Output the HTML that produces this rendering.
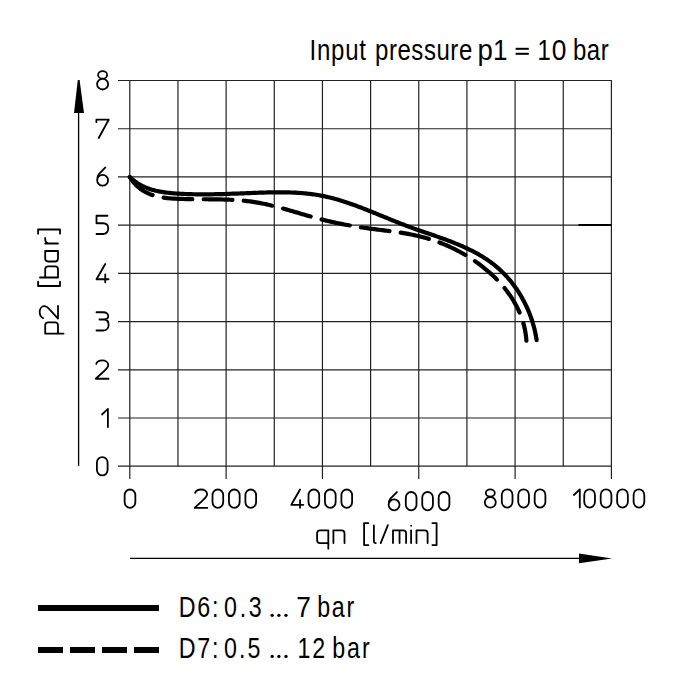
<!DOCTYPE html>
<html><head><meta charset="utf-8"><style>
html,body{margin:0;padding:0;background:#fff;}
svg{display:block;}
text{font-family:"Liberation Sans",sans-serif;fill:#000;}
</style></head><body>
<svg width="700" height="700" viewBox="0 0 700 700">
<rect width="700" height="700" fill="#fff"/>
<g stroke="#222" stroke-width="1.2" fill="none">
<line x1="129.80" y1="80.5" x2="129.80" y2="479" />
<line x1="177.96" y1="80.5" x2="177.96" y2="466.2" />
<line x1="226.12" y1="80.5" x2="226.12" y2="479" />
<line x1="274.28" y1="80.5" x2="274.28" y2="466.2" />
<line x1="322.44" y1="80.5" x2="322.44" y2="479" />
<line x1="370.60" y1="80.5" x2="370.60" y2="466.2" />
<line x1="418.76" y1="80.5" x2="418.76" y2="479" />
<line x1="466.92" y1="80.5" x2="466.92" y2="466.2" />
<line x1="515.08" y1="80.5" x2="515.08" y2="479" />
<line x1="563.24" y1="80.5" x2="563.24" y2="466.2" />
<line x1="611.40" y1="80.5" x2="611.40" y2="479" />
<line x1="118" y1="466.20" x2="612" y2="466.20" />
<line x1="118" y1="417.99" x2="612" y2="417.99" />
<line x1="118" y1="369.78" x2="612" y2="369.78" />
<line x1="118" y1="321.57" x2="612" y2="321.57" />
<line x1="118" y1="273.36" x2="612" y2="273.36" />
<line x1="118" y1="225.15" x2="612" y2="225.15" />
<line x1="118" y1="176.94" x2="612" y2="176.94" />
<line x1="118" y1="128.73" x2="612" y2="128.73" />
<line x1="118" y1="80.52" x2="612" y2="80.52" />
</g>
<g fill="none" stroke="#000" stroke-width="4.2" stroke-linecap="round" stroke-linejoin="round">
<path d="M129.70 176.90 L130.90 178.05 132.13 179.14 133.37 180.18 134.64 181.17 135.93 182.11 137.24 182.99 138.57 183.83 139.91 184.62 141.27 185.37 142.65 186.07 144.05 186.73 145.46 187.35 146.89 187.93 148.33 188.47 149.78 188.98 151.24 189.45 152.72 189.89 154.21 190.29 155.71 190.67 157.22 191.02 158.74 191.34 160.26 191.63 161.80 191.90 163.34 192.15 164.89 192.37 166.44 192.58 168.00 192.76 169.57 192.93 171.14 193.09 172.71 193.23 174.28 193.35 175.85 193.47 177.43 193.58 179.01 193.67 180.58 193.77 182.16 193.85 183.73 193.92 185.31 193.99 186.89 194.06 188.46 194.11 190.04 194.16 191.62 194.20 193.19 194.24 194.77 194.27 196.35 194.30 197.92 194.32 199.50 194.33 201.08 194.34 202.66 194.35 204.23 194.35 205.81 194.34 207.39 194.33 208.97 194.32 210.54 194.30 212.12 194.28 213.70 194.25 215.28 194.22 216.86 194.19 218.44 194.15 220.02 194.11 221.59 194.07 223.17 194.03 224.75 193.98 226.33 193.93 227.91 193.88 229.49 193.83 231.07 193.77 232.65 193.72 234.23 193.66 235.82 193.60 237.40 193.54 238.98 193.48 240.56 193.42 242.14 193.36 243.72 193.29 245.31 193.23 246.89 193.17 248.47 193.11 250.05 193.04 251.64 192.98 253.22 192.92 254.81 192.86 256.39 192.80 257.97 192.75 259.56 192.69 261.14 192.64 262.73 192.59 264.31 192.54 265.90 192.50 267.48 192.46 269.06 192.42 270.65 192.39 272.23 192.36 273.81 192.33 275.40 192.32 276.98 192.30 278.56 192.30 280.14 192.30 281.72 192.30 283.30 192.31 284.88 192.33 286.46 192.36 288.03 192.40 289.61 192.44 291.18 192.49 292.75 192.55 294.33 192.62 295.90 192.70 297.46 192.79 299.03 192.89 300.60 193.00 302.16 193.12 303.72 193.26 305.29 193.40 306.84 193.56 308.40 193.73 309.96 193.91 311.51 194.10 313.06 194.31 314.61 194.53 316.16 194.77 317.70 195.02 319.25 195.28 320.79 195.56 322.32 195.86 323.86 196.17 325.39 196.49 326.92 196.83 328.45 197.19 329.98 197.56 331.50 197.94 333.02 198.33 334.54 198.74 336.06 199.16 337.57 199.60 339.08 200.04 340.59 200.50 342.10 200.96 343.60 201.44 345.11 201.92 346.61 202.42 348.11 202.92 349.60 203.44 351.10 203.96 352.59 204.49 354.08 205.02 355.57 205.56 357.05 206.11 358.54 206.67 360.02 207.23 361.50 207.80 362.97 208.37 364.45 208.94 365.92 209.52 367.40 210.10 368.87 210.69 370.33 211.28 371.80 211.87 373.27 212.46 374.73 213.05 376.19 213.65 377.65 214.24 379.11 214.84 380.57 215.44 382.03 216.03 383.48 216.63 384.94 217.23 386.40 217.82 387.85 218.42 389.31 219.01 390.76 219.61 392.22 220.20 393.68 220.78 395.13 221.37 396.59 221.95 398.05 222.53 399.51 223.11 400.97 223.68 402.44 224.25 403.90 224.82 405.37 225.38 406.83 225.94 408.30 226.49 409.78 227.03 411.25 227.57 412.73 228.11 414.21 228.64 415.69 229.16 417.17 229.69 418.65 230.21 420.14 230.72 421.63 231.24 423.11 231.75 424.60 232.26 426.10 232.77 427.59 233.28 429.08 233.79 430.57 234.30 432.07 234.82 433.56 235.33 435.05 235.85 436.55 236.37 438.04 236.89 439.54 237.42 441.03 237.95 442.53 238.48 444.02 239.02 445.51 239.57 447.00 240.12 448.49 240.68 449.97 241.24 451.46 241.81 452.94 242.39 454.41 242.97 455.88 243.57 457.35 244.17 458.82 244.78 460.28 245.40 461.73 246.03 463.18 246.67 464.62 247.31 466.06 247.97 467.49 248.64 468.91 249.32 470.33 250.02 471.74 250.72 473.14 251.44 474.53 252.17 475.92 252.91 477.29 253.66 478.66 254.43 480.01 255.22 481.36 256.01 482.70 256.83 484.02 257.66 485.34 258.50 486.64 259.36 487.93 260.23 489.21 261.13 490.48 262.04 491.73 262.96 492.98 263.91 494.20 264.87 495.42 265.85 496.62 266.85 497.80 267.87 498.98 268.91 500.13 269.97 501.28 271.04 502.40 272.13 503.52 273.24 504.61 274.37 505.69 275.51 506.76 276.67 507.81 277.84 508.85 279.03 509.87 280.23 510.87 281.45 511.86 282.69 512.83 283.94 513.78 285.20 514.72 286.47 515.64 287.76 516.55 289.06 517.44 290.38 518.31 291.71 519.16 293.04 520.00 294.39 520.82 295.75 521.62 297.13 522.40 298.51 523.17 299.90 523.92 301.30 524.65 302.71 525.36 304.13 526.05 305.56 526.72 307.00 527.38 308.45 528.02 309.90 528.64 311.36 529.23 312.83 529.81 314.31 530.37 315.79 530.92 317.28 531.44 318.77 531.94 320.27 532.42 321.77 532.88 323.28 533.32 324.80 533.74 326.31 534.15 327.83 534.53 329.36 534.89 330.89 535.22 332.42 535.54 333.95 535.84 335.49 536.11 337.02 536.37 338.56 536.60 340.10"/>
<path d="M129.70 176.90 L130.59 178.33 131.52 179.71 132.49 181.03 133.50 182.29 134.54 183.50 135.62 184.65 136.73 185.74 137.87 186.78 139.04 187.77 140.24 188.71 141.46 189.59 142.72 190.43 144.00 191.21 145.30 191.95 146.63 192.64 147.98 193.29 149.35 193.89 150.73 194.45 152.14 194.96 153.56 195.44 155.00 195.87 156.46 196.26 157.92 196.61 159.40 196.93 160.89 197.22 162.40 197.47 163.91 197.70 165.43 197.90 166.95 198.07 168.49 198.23 170.03 198.36 171.57 198.48 173.12 198.58 174.67 198.67 176.23 198.74 177.78 198.81 179.33 198.87 180.89 198.92 182.44 198.97 183.99 199.01 185.55 199.05 187.10 199.08 188.65 199.11 190.20 199.13 191.75 199.16 193.30 199.17 194.85 199.19 196.40 199.20 197.95 199.21 199.50 199.22 201.05 199.23 202.59 199.24 204.14 199.25 205.68 199.26 207.23 199.27 208.77 199.28 210.32 199.29 211.86 199.31 213.40 199.32 214.94 199.34 216.48 199.36 218.02 199.39 219.56 199.42 221.09 199.45 222.63 199.49 224.16 199.53 225.70 199.58 227.23 199.64 228.76 199.70 230.29 199.77 231.82 199.84 233.35 199.92 234.88 200.02 236.40 200.11 237.93 200.22 239.45 200.34 240.97 200.46 242.49 200.60 244.01 200.75 245.53 200.90 247.05 201.07 248.56 201.25 250.08 201.45 251.59 201.65 253.10 201.87 254.61 202.10 256.12 202.34 257.62 202.60 259.13 202.87 260.63 203.15 262.13 203.44 263.63 203.75 265.13 204.07 266.63 204.39 268.13 204.73 269.62 205.08 271.12 205.43 272.61 205.80 274.11 206.17 275.60 206.55 277.09 206.93 278.58 207.33 280.07 207.73 281.56 208.13 283.05 208.54 284.53 208.96 286.02 209.38 287.51 209.80 288.99 210.23 290.48 210.66 291.97 211.09 293.45 211.52 294.94 211.96 296.42 212.39 297.91 212.83 299.39 213.27 300.88 213.70 302.36 214.14 303.85 214.57 305.33 215.01 306.82 215.44 308.30 215.86 309.79 216.29 311.27 216.71 312.76 217.12 314.25 217.53 315.74 217.94 317.22 218.34 318.71 218.73 320.20 219.12 321.69 219.50 323.18 219.87 324.67 220.24 326.17 220.60 327.66 220.95 329.15 221.30 330.65 221.64 332.15 221.98 333.64 222.31 335.14 222.63 336.64 222.95 338.14 223.26 339.64 223.56 341.14 223.86 342.64 224.16 344.15 224.44 345.65 224.73 347.16 225.01 348.66 225.28 350.17 225.54 351.68 225.81 353.19 226.06 354.70 226.32 356.22 226.56 357.73 226.81 359.25 227.05 360.76 227.28 362.28 227.51 363.80 227.74 365.32 227.96 366.85 228.17 368.37 228.39 369.89 228.59 371.42 228.80 372.95 229.00 374.48 229.20 376.01 229.40 377.54 229.59 379.07 229.78 380.61 229.98 382.14 230.17 383.67 230.36 385.21 230.55 386.74 230.75 388.27 230.94 389.81 231.14 391.34 231.35 392.87 231.55 394.40 231.76 395.93 231.97 397.46 232.19 398.99 232.42 400.51 232.65 402.04 232.89 403.56 233.13 405.08 233.39 406.60 233.65 408.11 233.92 409.63 234.20 411.14 234.49 412.65 234.79 414.15 235.10 415.65 235.43 417.15 235.76 418.65 236.11 420.14 236.47 421.63 236.85 423.11 237.24 424.59 237.64 426.07 238.06 427.54 238.48 429.01 238.93 430.47 239.38 431.93 239.85 433.39 240.33 434.84 240.83 436.28 241.34 437.73 241.86 439.16 242.39 440.59 242.94 442.02 243.50 443.44 244.08 444.86 244.66 446.27 245.26 447.68 245.88 449.08 246.50 450.47 247.14 451.86 247.80 453.25 248.46 454.63 249.14 456.00 249.83 457.37 250.54 458.73 251.25 460.08 251.99 461.43 252.73 462.77 253.48 464.11 254.25 465.44 255.04 466.76 255.83 468.08 256.64 469.39 257.46 470.69 258.29 471.99 259.14 473.28 259.99 474.56 260.87 475.83 261.75 477.10 262.65 478.36 263.56 479.61 264.48 480.85 265.41 482.09 266.36 483.31 267.32 484.53 268.29 485.73 269.27 486.92 270.27 488.11 271.27 489.28 272.29 490.44 273.33 491.59 274.37 492.73 275.43 493.85 276.49 494.96 277.57 496.06 278.66 497.14 279.77 498.22 280.88 499.27 282.01 500.32 283.15 501.34 284.30 502.36 285.46 503.35 286.63 504.33 287.81 505.30 289.01 506.25 290.21 507.18 291.43 508.09 292.66 508.99 293.90 509.86 295.15 510.72 296.41 511.57 297.69 512.39 298.97 513.19 300.26 513.97 301.57 514.74 302.89 515.48 304.21 516.20 305.55 516.90 306.90 517.58 308.26 518.24 309.63 518.87 311.00 519.49 312.39 520.08 313.79 520.64 315.21 521.19 316.63 521.71 318.06 522.20 319.50 522.67 320.95 523.12 322.41 523.54 323.88 523.94 325.36 524.31 326.85 524.65 328.35 524.96 329.86 525.25 331.38 525.52 332.91 525.75 334.45 525.96 336.00 526.14 337.56 526.28 339.12 526.40 340.70" stroke-dasharray="28.8 11.32" stroke-dashoffset="-1.08"/>
</g>
<g stroke="#000" stroke-width="1.3">
<line x1="78.6" y1="112" x2="78.6" y2="466"/>
<line x1="578.4" y1="225.0" x2="611.4" y2="225.0" stroke-width="1.8"/>
<line x1="130" y1="558.4" x2="580" y2="558.4"/>
</g>
<polygon points="77.8,80 79.6,80 84,113 74,113" fill="#000"/>
<polygon points="579,553.5 612,558.4 579,563.3" fill="#000"/>
<text transform="translate(309.60,59.50) scale(0.800,1)" style="font-size:30px;letter-spacing:0.91px">Input</text>
<text transform="translate(375.00,59.50) scale(0.800,1)" style="font-size:30px;letter-spacing:0.70px">pressure</text>
<text transform="translate(477.46,59.50) scale(0.919,1)" style="font-size:30px;letter-spacing:0.00px">p</text>
<text transform="translate(492.94,59.50) scale(0.869,1)" style="font-size:30px;letter-spacing:0.00px">1</text>
<text transform="translate(537.62,59.50) scale(0.792,1)" style="font-size:30px;letter-spacing:0.00px">1</text>
<text transform="translate(551.70,59.50) scale(0.877,1)" style="font-size:30px;letter-spacing:0.00px">0</text>
<text transform="translate(573.00,59.50) scale(0.800,1)" style="font-size:30px;letter-spacing:0.63px">bar</text>
<text transform="translate(178.70,617.00) scale(0.800,1)" style="font-size:29px;letter-spacing:2.31px">D6:</text>
<text transform="translate(224.00,617.00) scale(0.800,1)" style="font-size:29px;letter-spacing:3.44px">0.3</text>
<text transform="translate(296.34,617.00) scale(0.906,1)" style="font-size:29px;letter-spacing:0.00px">7</text>
<text transform="translate(317.15,617.00) scale(0.800,1)" style="font-size:29px;letter-spacing:2.28px">bar</text>
<text transform="translate(178.70,657.50) scale(0.800,1)" style="font-size:29px;letter-spacing:2.31px">D7:</text>
<text transform="translate(224.00,657.50) scale(0.800,1)" style="font-size:29px;letter-spacing:2.56px">0.5</text>
<text transform="translate(297.45,657.50) scale(0.800,1)" style="font-size:29px;letter-spacing:2.44px">12</text>
<text transform="translate(332.15,657.50) scale(0.800,1)" style="font-size:29px;letter-spacing:2.59px">bar</text>
<g fill="none" stroke="#000" stroke-width="1.8" stroke-linecap="round" stroke-linejoin="round">
<path transform="translate(96.90,475.40)" d="M0,-12.7 A5.35,5.6 0 0 1 10.7,-12.7 V-5.6 A5.35,5.6 0 0 1 0,-5.6 Z"/>
<path transform="translate(97.10,427.10)" d="M4.9,-12.6 L10.8,-18.2 V0"/>
<path transform="translate(95.75,378.75)" d="M0.5,-14.9 C1.3,-17.1 3.6,-18.3 6.5,-18.3 C9.6,-18.3 12.5,-16.5 12.5,-13.7 C12.5,-11.3 10.6,-9.6 8.7,-8 L0,0 H12.75"/>
<path transform="translate(96.50,330.50)" d="M0,-18.25 H6.8 C9.8,-18.25 11.75,-16.3 11.75,-14.4 C11.75,-12.2 9.8,-11 7.5,-11 H3 M7.5,-11 C10.3,-11 12.1,-8.8 12.1,-5.6 C12.1,-2.4 9.8,0 6.5,0 H0"/>
<path transform="translate(96.50,282.25)" d="M8.75,-18.25 L0,-3 H12 M8.75,-7.75 V0"/>
<path transform="translate(96.50,234.00)" d="M11,-18.25 H0 V-10.75 H6.5 C9.8,-10.75 11.75,-8.5 11.75,-5.4 C11.75,-2.2 9.6,0 6.5,0 H0"/>
<path transform="translate(97.10,185.70)" d="M8.3,-18.25 L1.8,-11.6 C0.6,-10.3 0.05,-7.8 0.05,-5.45 A5.45,5.45 0 1 0 10.95,-5.45 A5.45,5.45 0 1 0 0.05,-5.45"/>
<path transform="translate(96.40,138.00)" d="M0,-15.8 V-18.3 H12.3 L2.3,0"/>
<path transform="translate(97.10,89.50)" d="M1,-14.6 A4.5,3.7 0 1 0 10,-14.6 A4.5,3.7 0 1 0 1,-14.6 M0,-5.3 A5.5,5.3 0 1 0 11,-5.3 A5.5,5.3 0 1 0 0,-5.3"/>
<path transform="translate(124.65,507.80)" d="M0,-12.7 A5.35,5.6 0 0 1 10.7,-12.7 V-5.6 A5.35,5.6 0 0 1 0,-5.6 Z"/>
<path transform="translate(194.60,507.80)" d="M0.5,-14.9 C1.3,-17.1 3.6,-18.3 6.5,-18.3 C9.6,-18.3 12.5,-16.5 12.5,-13.7 C12.5,-11.3 10.6,-9.6 8.7,-8 L0,0 H12.75"/>
<path transform="translate(212.50,507.80)" d="M0,-12.7 A5.35,5.6 0 0 1 10.7,-12.7 V-5.6 A5.35,5.6 0 0 1 0,-5.6 Z"/>
<path transform="translate(228.95,507.80)" d="M0,-12.7 A5.35,5.6 0 0 1 10.7,-12.7 V-5.6 A5.35,5.6 0 0 1 0,-5.6 Z"/>
<path transform="translate(245.40,507.80)" d="M0,-12.7 A5.35,5.6 0 0 1 10.7,-12.7 V-5.6 A5.35,5.6 0 0 1 0,-5.6 Z"/>
<path transform="translate(291.30,507.80)" d="M8.75,-18.25 L0,-3 H12 M8.75,-7.75 V0"/>
<path transform="translate(308.50,507.80)" d="M0,-12.7 A5.35,5.6 0 0 1 10.7,-12.7 V-5.6 A5.35,5.6 0 0 1 0,-5.6 Z"/>
<path transform="translate(324.95,507.80)" d="M0,-12.7 A5.35,5.6 0 0 1 10.7,-12.7 V-5.6 A5.35,5.6 0 0 1 0,-5.6 Z"/>
<path transform="translate(341.40,507.80)" d="M0,-12.7 A5.35,5.6 0 0 1 10.7,-12.7 V-5.6 A5.35,5.6 0 0 1 0,-5.6 Z"/>
<path transform="translate(388.60,510.30)" d="M8.3,-18.25 L1.8,-11.6 C0.6,-10.3 0.05,-7.8 0.05,-5.45 A5.45,5.45 0 1 0 10.95,-5.45 A5.45,5.45 0 1 0 0.05,-5.45"/>
<path transform="translate(405.80,510.30)" d="M0,-12.7 A5.35,5.6 0 0 1 10.7,-12.7 V-5.6 A5.35,5.6 0 0 1 0,-5.6 Z"/>
<path transform="translate(422.25,510.30)" d="M0,-12.7 A5.35,5.6 0 0 1 10.7,-12.7 V-5.6 A5.35,5.6 0 0 1 0,-5.6 Z"/>
<path transform="translate(438.70,510.30)" d="M0,-12.7 A5.35,5.6 0 0 1 10.7,-12.7 V-5.6 A5.35,5.6 0 0 1 0,-5.6 Z"/>
<path transform="translate(484.80,507.60)" d="M1,-14.6 A4.5,3.7 0 1 0 10,-14.6 A4.5,3.7 0 1 0 1,-14.6 M0,-5.3 A5.5,5.3 0 1 0 11,-5.3 A5.5,5.3 0 1 0 0,-5.3"/>
<path transform="translate(501.80,507.60)" d="M0,-12.7 A5.35,5.6 0 0 1 10.7,-12.7 V-5.6 A5.35,5.6 0 0 1 0,-5.6 Z"/>
<path transform="translate(518.25,507.60)" d="M0,-12.7 A5.35,5.6 0 0 1 10.7,-12.7 V-5.6 A5.35,5.6 0 0 1 0,-5.6 Z"/>
<path transform="translate(534.70,507.60)" d="M0,-12.7 A5.35,5.6 0 0 1 10.7,-12.7 V-5.6 A5.35,5.6 0 0 1 0,-5.6 Z"/>
<path transform="translate(569.00,507.60)" d="M4.9,-12.6 L10.8,-18.2 V0"/>
<path transform="translate(584.25,507.60)" d="M0,-12.7 A5.35,5.6 0 0 1 10.7,-12.7 V-5.6 A5.35,5.6 0 0 1 0,-5.6 Z"/>
<path transform="translate(600.70,507.60)" d="M0,-12.7 A5.35,5.6 0 0 1 10.7,-12.7 V-5.6 A5.35,5.6 0 0 1 0,-5.6 Z"/>
<path transform="translate(617.15,507.60)" d="M0,-12.7 A5.35,5.6 0 0 1 10.7,-12.7 V-5.6 A5.35,5.6 0 0 1 0,-5.6 Z"/>
<path transform="translate(633.60,507.60)" d="M0,-12.7 A5.35,5.6 0 0 1 10.7,-12.7 V-5.6 A5.35,5.6 0 0 1 0,-5.6 Z"/>
<path transform="translate(317.10,543.10)" d="M11.2,5.6 V-12.8 H2.9 Q0,-12.8 0,-9.9 V-2.9 Q0,0 2.9,0 H11.2"/>
<path transform="translate(333.40,543.10)" d="M0,0 V-12.8 H8.2 Q11.1,-12.8 11.1,-9.9 V0"/>
<path transform="translate(364.10,543.10)" d="M4.3,-19.9 H0 V2.0 H4.3"/>
<path transform="translate(373.90,543.10)" d="M0,-17.7 V-1.9 Q0,0 1.9,0"/>
<path transform="translate(380.70,543.10)" d="M7.2,-18 L0,0"/>
<path transform="translate(393.00,543.10)" d="M0,0 V-12.8 H10.2 Q13.1,-12.8 13.1,-9.9 V0 M6.55,-12.8 V0"/>
<path transform="translate(411.10,543.10)" d="M0,-12.8 V0 M0,-17.4 V-17.3"/>
<path transform="translate(416.50,543.10)" d="M0,0 V-12.8 H8.2 Q11.1,-12.8 11.1,-9.9 V0"/>
<path transform="translate(432.40,543.10)" d="M0,-19.9 H4.2 V2.0 H0"/>
<g transform="translate(58.00,340.00) rotate(-90)">
<path transform="translate(6.40,0.00)" d="M0,5.6 V-12.8 H8.3 Q11.2,-12.8 11.2,-9.9 V-2.9 Q11.2,0 8.3,0 H0"/>
<path transform="translate(21.40,0.00)" d="M0.5,-14.9 C1.3,-17.1 3.6,-18.3 6.5,-18.3 C9.6,-18.3 12.5,-16.5 12.5,-13.7 C12.5,-11.3 10.6,-9.6 8.7,-8 L0,0 H12.75"/>
<path transform="translate(54.00,0.00)" d="M4.3,-19.9 H0 V2.0 H4.3"/>
<path transform="translate(62.50,0.00)" d="M0,-18 V0 H8.3 Q11.2,0 11.2,-2.9 V-9.9 Q11.2,-12.8 8.3,-12.8 H0"/>
<path transform="translate(78.50,0.00)" d="M10.5,-12.8 V0 H2.9 Q0,0 0,-2.9 V-9.9 Q0,-12.8 2.9,-12.8 H10.5"/>
<path transform="translate(96.50,0.00)" d="M0,0 V-12.8 M0,-9.3 Q0.6,-12.8 4.2,-12.8 H5.6"/>
<path transform="translate(106.30,0.00)" d="M0,-19.9 H4.2 V2.0 H0"/>
</g>
</g>
<rect x="515.6" y="47.8" width="13.2" height="2" fill="#000"/>
<rect x="515.6" y="52.8" width="13.2" height="2" fill="#000"/>
<circle cx="272.2" cy="615.3" r="1.65" fill="#000"/><circle cx="278.9" cy="615.3" r="1.65" fill="#000"/><circle cx="286.0" cy="615.3" r="1.65" fill="#000"/><circle cx="272.2" cy="656.4" r="1.65" fill="#000"/><circle cx="278.9" cy="656.4" r="1.65" fill="#000"/><circle cx="286.0" cy="656.4" r="1.65" fill="#000"/>
<rect x="38" y="605" width="121" height="6" fill="#000"/>
<rect x="38" y="647" width="25" height="6" fill="#000"/>
<rect x="70" y="647" width="25" height="6" fill="#000"/>
<rect x="102" y="647" width="25" height="6" fill="#000"/>
<rect x="134" y="647" width="25" height="6" fill="#000"/>
</svg>
</body></html>
